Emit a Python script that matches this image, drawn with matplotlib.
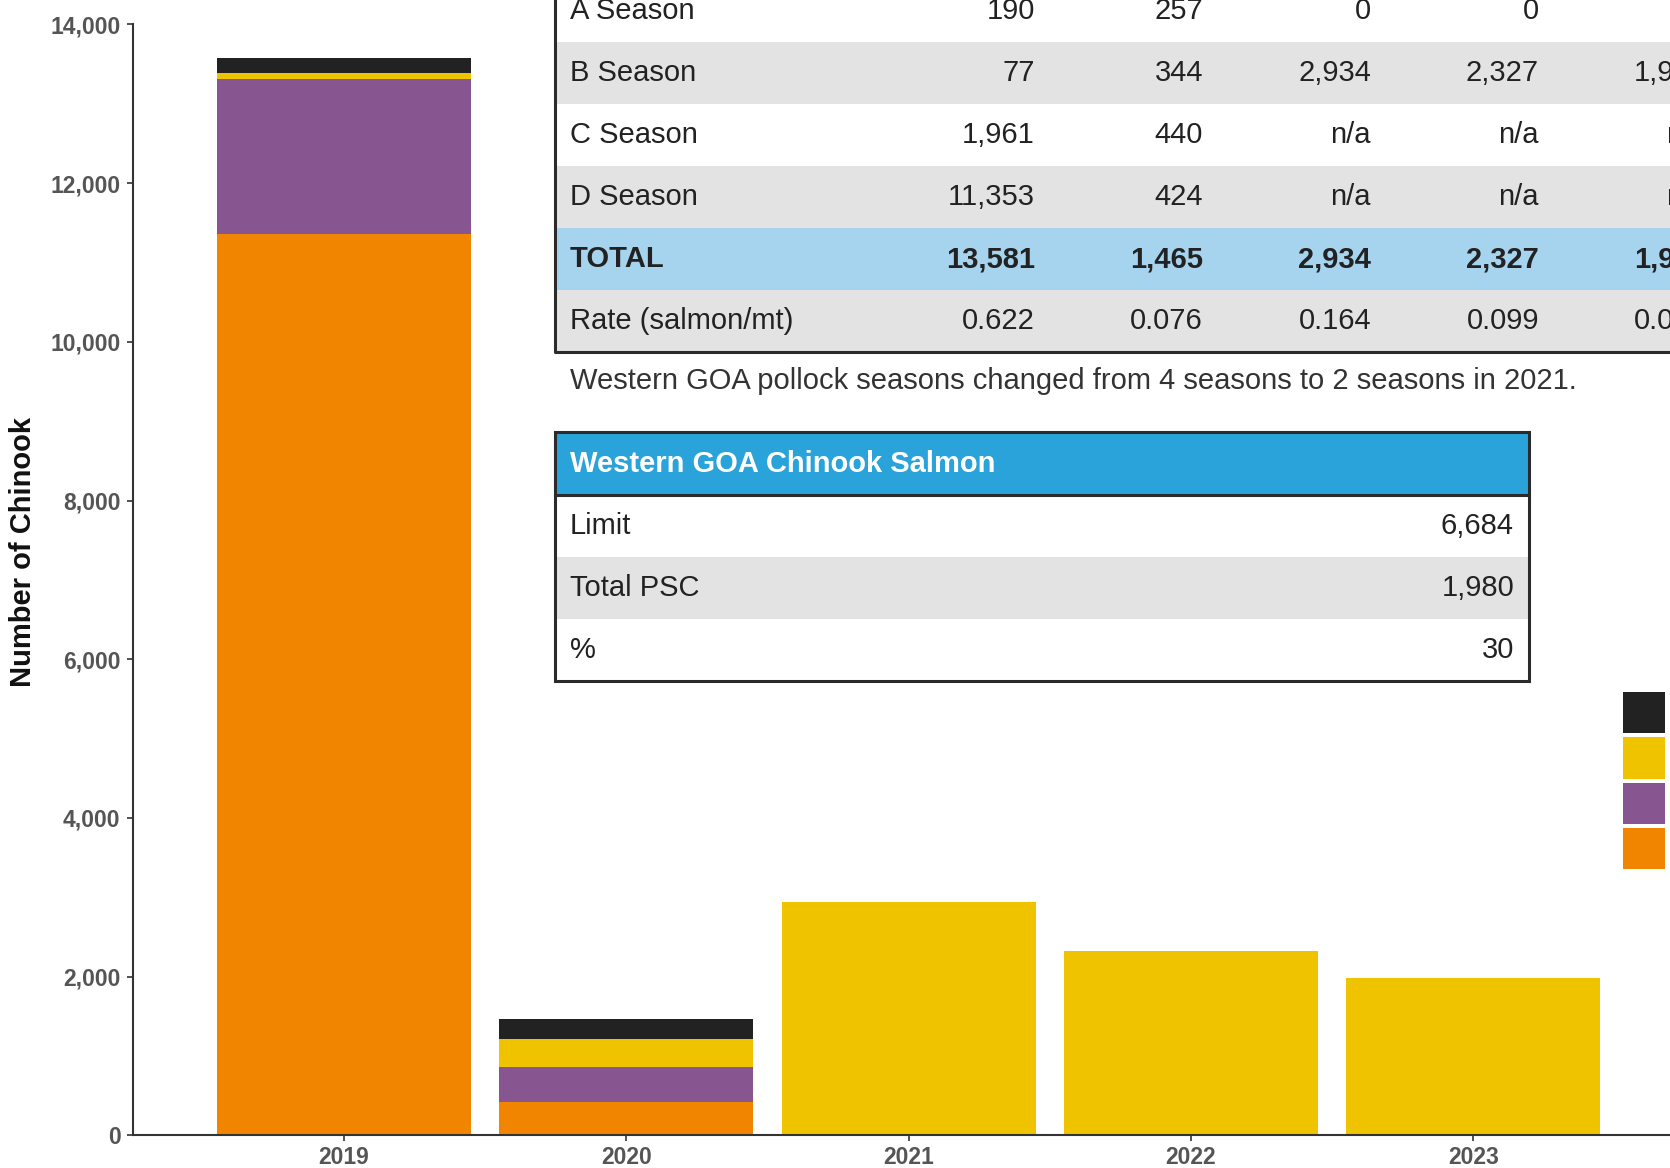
import matplotlib.pyplot as plt
from matplotlib.patches import Rectangle, Patch
from matplotlib.ticker import FuncFormatter
import numpy as np

plt.rcParams['font.family'] = ['Liberation Sans', 'DejaVu Sans']

# Chinook salmon PSC by pollock season
years = ["2019", "2020", "2021", "2022", "2023"]
season_a = [190, 257, 0, 0, 0]
season_b = [77, 344, 2934, 2327, 1980]
season_c = [1961, 440, None, None, None]
season_d = [11353, 424, None, None, None]
rates = [0.622, 0.076, 0.164, 0.099, 0.085]
season_names = ["A Season", "B Season", "C Season", "D Season"]

# limit summary
psc_limit = 6684
total_psc = 1980

colors = {"A": "#222222", "B": "#f0c300", "C": "#87558f", "D": "#f28500"}

W, H = 1670, 1168
fig = plt.figure(figsize=(W / 100, H / 100), dpi=100)

# main bar axes
y0, y1 = 1135.3, 24.4
ax = fig.add_axes([133 / W, 1 - y0 / H, 1 - 133 / W, (y0 - y1) / H])

x = np.arange(len(years))
a = np.array(season_a, dtype=float)
b = np.array(season_b, dtype=float)
c = np.array([v or 0 for v in season_c], dtype=float)
d = np.array([v or 0 for v in season_d], dtype=float)

ax.bar(x, d, 0.9, color=colors["D"])
ax.bar(x, c, 0.9, bottom=d, color=colors["C"])
ax.bar(x, b, 0.9, bottom=d + c, color=colors["B"])
ax.bar(x, a, 0.9, bottom=d + c + b, color=colors["A"])

ax.set_xlim(-0.747, 4.697)
ax.set_ylim(0, 14000)
ax.set_xticks(x)
ax.set_xticklabels(years)
ax.set_yticks(np.arange(0, 14001, 2000))
ax.yaxis.set_major_formatter(FuncFormatter(lambda v, p: f"{int(v):,}"))
for s in ["top", "right"]:
    ax.spines[s].set_visible(False)
for s in ["left", "bottom"]:
    ax.spines[s].set_color("#333333")
    ax.spines[s].set_linewidth(1.5)
ax.tick_params(axis="both", colors="#333333", length=4, width=1.2,
               labelsize=16.5, labelcolor="#555555")
ax.tick_params(axis="y", pad=5)
ax.tick_params(axis="x", pad=4)
for lbl in ax.get_xticklabels() + ax.get_yticklabels():
    lbl.set_fontweight("bold")

fig.text(23 / W, 1 - 552 / H, "Number of Chinook", rotation=90, ha="center",
         va="center", fontsize=21, fontweight="bold", color="#111111")

# legend swatches on the right
handles = [Patch(facecolor=colors[k]) for k in "ABCD"]
fig.legend(handles, season_names, loc="upper left",
           bbox_to_anchor=(1623 / W, 1 - 692 / H), frameon=False,
           borderpad=0, borderaxespad=0, handlelength=1.44,
           handleheight=1.79, labelspacing=0.15, handletextpad=0.5,
           fontsize=21)

# overlay in pixel coordinates for the tables
tb = fig.add_axes([0, 0, 1, 1], zorder=5)
tb.set_xlim(0, W)
tb.set_ylim(H, 0)
tb.axis("off")

GRAY = "#e3e3e3"
TOTAL_BLUE = "#a6d3ee"
HEAD_BLUE = "#29a3d9"
BORDER = "#2b2b2b"
TXT = "#222222"
FS = 21


def fmt(v):
    return "n/a" if v is None else f"{v:,}"


totals = a + b + c + d
rows = [
    ("A Season", [fmt(v) for v in season_a], "white", "normal"),
    ("B Season", [fmt(v) for v in season_b], GRAY, "normal"),
    ("C Season", [fmt(v) for v in season_c], "white", "normal"),
    ("D Season", [fmt(v) for v in season_d], GRAY, "normal"),
    ("TOTAL", [f"{int(v):,}" for v in totals], TOTAL_BLUE, "bold"),
    ("Rate (salmon/mt)", [f"{v:.3f}" for v in rates], GRAY, "normal"),
]

left, right = 555, 1900
row_h = 62
top = -20
col_right = [1035 + i * 168 for i in range(len(years))]
for i, (label, vals, fill, weight) in enumerate(rows):
    ry = top + i * row_h
    tb.add_patch(Rectangle((left, ry), right - left, row_h, facecolor=fill,
                           edgecolor="none"))
    tb.text(570, ry + row_h / 2, label, ha="left", va="center", fontsize=FS,
            fontweight=weight, color=TXT)
    for cx, v in zip(col_right, vals):
        tb.text(cx, ry + row_h / 2, v, ha="right", va="center", fontsize=FS,
                fontweight=weight, color=TXT)
bottom = top + len(rows) * row_h
tb.plot([left, left, right], [top, bottom, bottom], color=BORDER, lw=2.2,
        solid_capstyle="butt")

tb.text(570, 381, "Western GOA pollock seasons changed from 4 seasons to 2 "
        "seasons in 2021.", ha="left", va="center", fontsize=FS, color="#333333")

# limit table
l2, r2 = 555, 1529
t2 = 432
head_h = 63
tb.add_patch(Rectangle((l2, t2), r2 - l2, head_h, facecolor=HEAD_BLUE,
                       edgecolor="none"))
tb.text(570, t2 + head_h / 2, "Western GOA Chinook Salmon", ha="left",
        va="center", fontsize=FS, fontweight="bold", color="white")
limit_rows = [
    ("Limit", f"{psc_limit:,}", "white"),
    ("Total PSC", f"{total_psc:,}", GRAY),
    ("%", f"{round(total_psc / psc_limit * 100)}", "white"),
]
for i, (label, val, fill) in enumerate(limit_rows):
    ry = t2 + head_h + i * row_h
    tb.add_patch(Rectangle((l2, ry), r2 - l2, row_h, facecolor=fill,
                           edgecolor="none"))
    tb.text(570, ry + row_h / 2, label, ha="left", va="center", fontsize=FS,
            color=TXT)
    tb.text(1514, ry + row_h / 2, val, ha="right", va="center", fontsize=FS,
            color=TXT)
b2 = t2 + head_h + len(limit_rows) * row_h
tb.add_patch(Rectangle((l2, t2), r2 - l2, b2 - t2, facecolor="none",
                       edgecolor=BORDER, lw=2.2))
tb.plot([l2, r2], [t2 + head_h, t2 + head_h], color=BORDER, lw=2.2)

fig.savefig("out.png", dpi=100)
